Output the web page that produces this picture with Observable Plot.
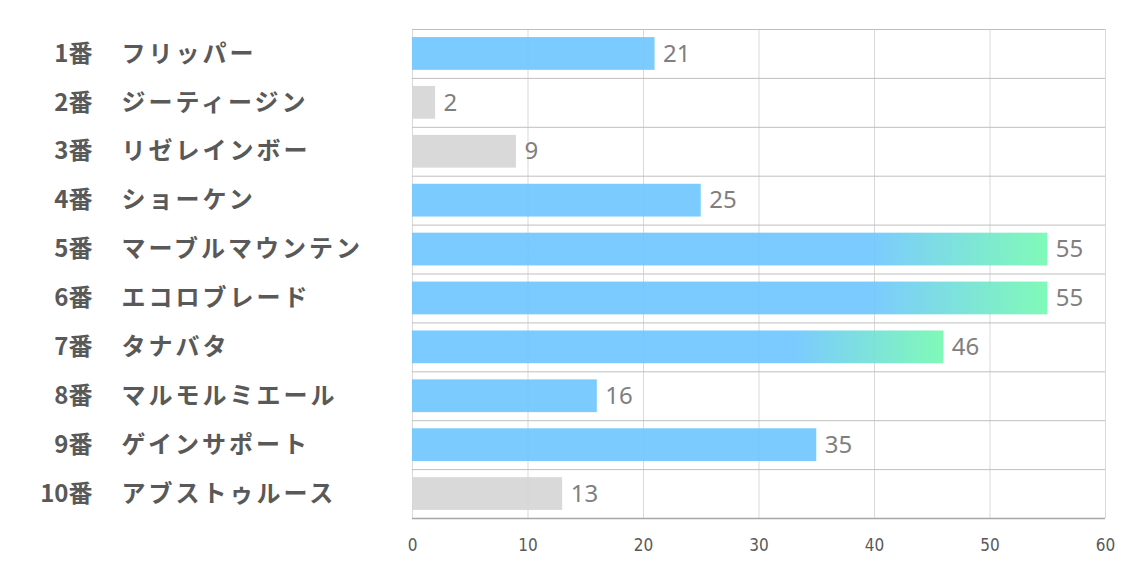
<!DOCTYPE html>
<html>
<head>
<meta charset="utf-8">
<script src="https://cdn.jsdelivr.net/npm/d3@7"></script>
<script src="https://cdn.jsdelivr.net/npm/@observablehq/plot@0.6"></script>
<style>
  html, body { margin: 0; padding: 0; background: #fff; }
  #chart svg { display: block; }
</style>
</head>
<body>
<div id="chart"></div>
<script>
const numbers = ["1番","2番","3番","4番","5番","6番","7番","8番","9番","10番"];
const names = ["フリッパー","ジーティージン","リゼレインボー","ショーケン","マーブルマウンテン","エコロブレード","タナバタ","マルモルミエール","ゲインサポート","アブストゥルース"];
const values = [21, 2, 9, 25, 55, 55, 46, 16, 35, 13];
const kinds = ["blue","gray","gray","blue","grad","grad","grad","blue","blue","gray"];
const xTicks = [0, 10, 20, 30, 40, 50, 60];

const data = numbers.map((n, i) => ({num: n, name: names[i], value: values[i], kind: kinds[i]}));

const W = 1134, H = 567;
const mTop = 29, mBottom = 49, mLeft = 412, mRight = 29;
const step = (H - mTop - mBottom) / numbers.length;
const tickFont = "'DejaVu Sans Condensed', 'Liberation Sans Narrow', 'DejaVu Sans', sans-serif";

const chart = Plot.plot({
  width: W,
  height: H,
  marginTop: mTop,
  marginBottom: mBottom,
  marginLeft: mLeft,
  marginRight: mRight,
  style: {background: "#fff", fontFamily: "'Noto Sans', sans-serif"},
  x: {domain: [0, 60], ticks: xTicks, label: null},
  y: {domain: numbers, paddingInner: 0.33, paddingOuter: 0.165, round: false, axis: null, label: null},
  marks: [
    Plot.gridX({ticks: xTicks, stroke: "#d9d9d9", strokeOpacity: 1}),
    Plot.ruleY(data, {y: "num", dy: -step / 2, stroke: "#bfbfbf", strokeWidth: 1}),
    Plot.ruleY([numbers[numbers.length - 1]], {y: d => d, dy: step / 2, stroke: "#a6a6a6", strokeWidth: 1.5}),
    Plot.barX(data, {filter: d => d.kind === "blue", y: "num", x: "value", fill: "#6dc5ff", fillOpacity: 0.9}),
    Plot.barX(data, {filter: d => d.kind === "gray", y: "num", x: "value", fill: "#d5d5d5", fillOpacity: 0.9}),
    Plot.barX(data, {filter: d => d.kind === "grad", y: "num", x: "value", fill: "url(#barGrad)", fillOpacity: 0.9}),
    Plot.text(data, {y: "num", x: "value", text: d => String(d.value), textAnchor: "start", dx: 8, fill: "#7f7f7f", fontSize: 24, fontFamily: "'Noto Sans', sans-serif"}),
    Plot.text(data, {y: "num", text: "num", frameAnchor: "left", textAnchor: "end", dx: 92 - mLeft, fill: "#595959", fontSize: 24, fontWeight: "bold", fontFamily: "'Noto Sans CJK JP', sans-serif"}),
    Plot.text(data, {y: "num", text: "name", frameAnchor: "left", textAnchor: "start", dx: 121 - mLeft, fill: "#595959", fontSize: 24, fontWeight: "bold", fontFamily: "'Noto Sans CJK JP', sans-serif"}),
    Plot.axisX({ticks: xTicks, tickSize: 0, tickPadding: 20, fontSize: 17, fontFamily: tickFont, fill: "#595959", label: null, tickFormat: d => String(d)})
  ]
});

const ns = "http://www.w3.org/2000/svg";
const defs = document.createElementNS(ns, "defs");
defs.innerHTML = `<linearGradient id="barGrad" x1="0" x2="1" y1="0" y2="0">
  <stop offset="0" stop-color="#6dc5ff"/>
  <stop offset="0.72" stop-color="#6dc5ff"/>
  <stop offset="1" stop-color="#72f9b0"/>
</linearGradient>`;
chart.insertBefore(defs, chart.firstChild);

// text styling not exposed as mark options
const tickStrings = new Set(xTicks.map(String));
const nameSet = new Set(names);
chart.querySelectorAll("text").forEach(t => {
  const s = t.textContent.trim();
  if (nameSet.has(s)) t.style.letterSpacing = "3px";
  else if (tickStrings.has(s)) {
    t.setAttribute("font-size", "17");
    t.style.fontSize = "17px";
    t.style.fontFamily = tickFont;
  }
});
document.getElementById("chart").appendChild(chart);
</script>
</body>
</html>
